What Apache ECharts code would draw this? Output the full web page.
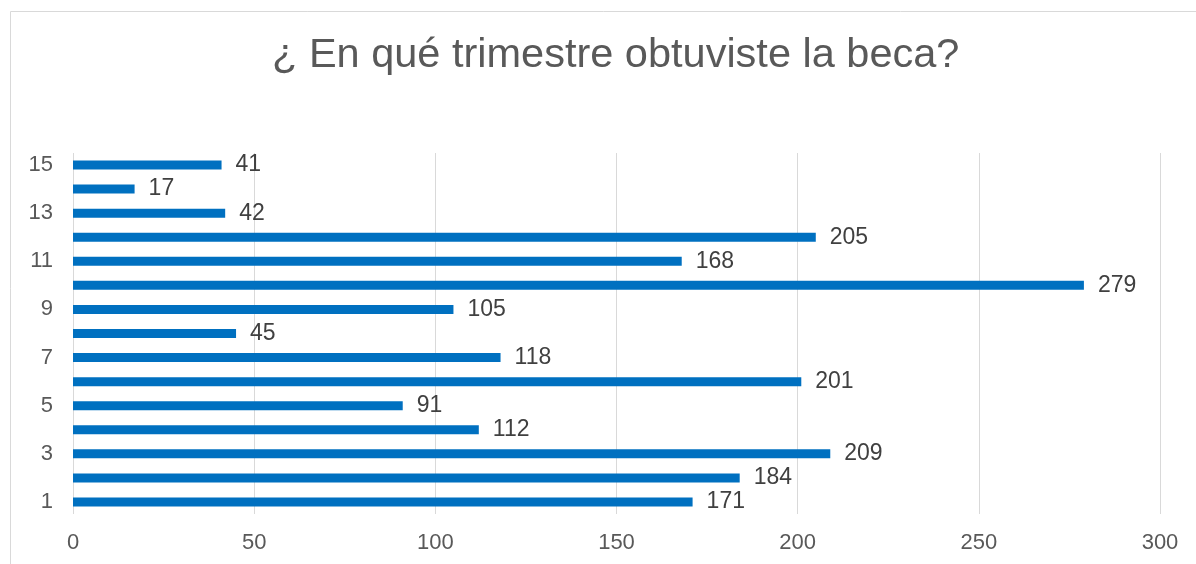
<!DOCTYPE html>
<html>
<head>
<meta charset="utf-8">
<script src="https://cdn.jsdelivr.net/npm/echarts@6/dist/echarts.min.js"></script>
<style>
  html, body { margin: 0; padding: 0; background: #fff; }
  #chart { width: 1196px; height: 564px; }
</style>
</head>
<body>
<div id="chart"></div>
<script>
const categories = ["1", "2", "3", "4", "5", "6", "7", "8", "9", "10", "11", "12", "13", "14", "15"];
const values = [171, 184, 209, 112, 91, 201, 118, 45, 105, 279, 168, 205, 42, 17, 41];
const xTicks = [0, 300, 50]; // min, max, interval

const chart = echarts.init(document.getElementById("chart"));
chart.setOption({
  animation: false,
  textStyle: { fontFamily: "Liberation Sans, Arial, sans-serif" },
  graphic: [
    {
      type: "rect",
      shape: { x: 10.5, y: 11.5, width: 1300, height: 700 },
      style: { fill: null, stroke: "#d9d9d9", lineWidth: 1 },
      silent: true,
    },
  ],
  title: {
    text: "¿ En qué trimestre obtuviste la beca?",
    left: 267,
    top: 30,
    textStyle: { fontSize: 41.5, fontWeight: "normal", color: "#595959" },
  },
  grid: { left: 73, right: 36, top: 153, bottom: 50, containLabel: false },
  xAxis: {
    type: "value",
    min: xTicks[0],
    max: xTicks[1],
    interval: xTicks[2],
    axisLine: { show: false },
    axisTick: { show: false },
    splitLine: { lineStyle: { color: "#d9d9d9", width: 1 } },
    axisLabel: { fontSize: 22, color: "#595959", margin: 18 },
  },
  yAxis: {
    type: "category",
    data: categories,
    axisLine: { show: false },
    axisTick: { show: false },
    axisLabel: { interval: 1, fontSize: 22, color: "#595959", margin: 20 },
  },
  series: [
    {
      type: "bar",
      data: values,
      barWidth: 9,
      itemStyle: { color: "#0070c0" },
      label: {
        show: true,
        position: "right",
        distance: 14,
        fontSize: 23,
        color: "#404040",
      },
    },
  ],
});
</script>
</body>
</html>
